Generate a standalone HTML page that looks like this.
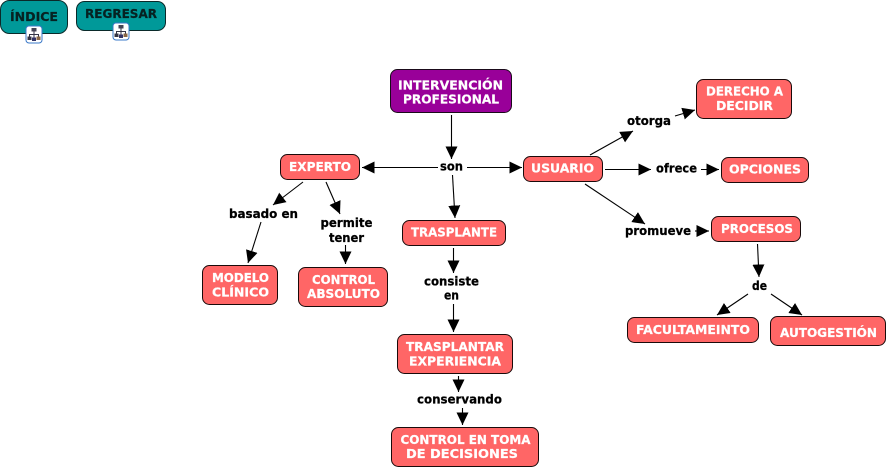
<!DOCTYPE html>
<html><head><meta charset="utf-8"><style>
html,body{margin:0;padding:0;background:#fff;width:888px;height:469px;overflow:hidden}
svg{display:block}
text{font-family:"DejaVu Sans",sans-serif;font-weight:bold;font-size:12.5px;stroke-width:.25px}
.w{fill:#fff;stroke:#fff}.k{fill:#000;stroke:#000}.d{fill:#062222;stroke:#062222}
.n{fill:#ff6666;stroke:#1a0a0a;stroke-width:1}
.l{stroke:#000;stroke-width:1.1;fill:none;marker-end:url(#a)}
</style></head><body>
<svg width="888" height="469" viewBox="0 0 888 469" xmlns="http://www.w3.org/2000/svg">
<defs>
<marker id="a" markerUnits="userSpaceOnUse" markerWidth="15" markerHeight="14" refX="12.500" refY="6" orient="auto"><path d="M0 0L12.500 6L0 12Z" fill="#000"/></marker>
<g id="ic">
<rect x="0.500" y="0.500" width="16" height="17" rx="3" fill="#fff" stroke="#3a78c8"/>
<path d="M8.500 5V9M4 12V9H13V12M8.500 9V12" stroke="#334" fill="none"/>
<rect x="6" y="2.500" width="5" height="3.500" fill="#445"/>
<rect x="2" y="11" width="4" height="3.500" fill="#334"/>
<rect x="11" y="11" width="4" height="3.500" fill="#864"/>
<rect x="6.500" y="12" width="4" height="3.500" fill="#336"/>
</g>
</defs>

<rect x="0.500" y="0.500" width="67" height="33" rx="9" fill="#009999" stroke="#0a2a2a"/>
<text class="d" x="34" y="21" text-anchor="middle" textLength="48" lengthAdjust="spacingAndGlyphs">ÍNDICE</text>
<rect x="76.500" y="1.500" width="89" height="29" rx="8" fill="#009999" stroke="#0a2a2a"/>
<text class="d" x="121" y="18" text-anchor="middle" textLength="72" lengthAdjust="spacingAndGlyphs">REGRESAR</text>
<use href="#ic" x="25.500" y="25.500"/>
<use href="#ic" x="112.500" y="22.500"/>

<!-- connectors -->
<path class="l" d="M451.500 115V159"/>
<path class="l" d="M438 167.500H362"/>
<path class="l" d="M467 167.500H522"/>
<path class="l" d="M452.500 175L455 218"/>
<path class="l" d="M303 182L273 205"/>
<path class="l" d="M261 222L248 263"/>
<path class="l" d="M326 182L340 214"/>
<path class="l" d="M345.500 245V264"/>
<path class="l" d="M453.500 248V273"/>
<path class="l" d="M453.500 304V332"/>
<path class="l" d="M458.500 376V392"/>
<path class="l" d="M462.500 408V425"/>
<path class="l" d="M590 155L633 131"/>
<path class="l" d="M675 116L695 110"/>
<path class="l" d="M605 169.500H651"/>
<path class="l" d="M701 169.500H719"/>
<path class="l" d="M585 184L645 224"/>
<path class="l" d="M695 231H709"/>
<path class="l" d="M757.500 244L759 277"/>
<path class="l" d="M748 294L717 315"/>
<path class="l" d="M771 294L802 315"/>

<!-- nodes -->
<rect x="390.500" y="69.500" width="121" height="43" rx="7" fill="#990099" stroke="#1a0a1a"/>
<text class="w" x="450.500" y="89.300" text-anchor="middle" textLength="105" lengthAdjust="spacingAndGlyphs">INTERVENCIÓN</text>
<text class="w" x="451" y="103.700" text-anchor="middle" textLength="96" lengthAdjust="spacingAndGlyphs">PROFESIONAL</text>

<rect class="n" x="523.500" y="156.500" width="79" height="25" rx="7"/>
<text class="w" x="562.500" y="172.700" text-anchor="middle" textLength="63" lengthAdjust="spacingAndGlyphs">USUARIO</text>

<rect class="n" x="280.500" y="154.500" width="79" height="25" rx="7"/>
<text class="w" x="320" y="171" text-anchor="middle" textLength="62" lengthAdjust="spacingAndGlyphs">EXPERTO</text>

<rect class="n" x="402.500" y="220.500" width="103" height="25" rx="7"/>
<text class="w" x="454" y="236.700" text-anchor="middle" textLength="86" lengthAdjust="spacingAndGlyphs">TRASPLANTE</text>

<rect class="n" x="696.500" y="79.500" width="95" height="39" rx="7"/>
<text class="w" x="744.500" y="95.700" text-anchor="middle" textLength="77" lengthAdjust="spacingAndGlyphs">DERECHO A</text>
<text class="w" x="744.500" y="110" text-anchor="middle" textLength="57" lengthAdjust="spacingAndGlyphs">DECIDIR</text>

<rect class="n" x="721.500" y="157.500" width="87" height="25" rx="7"/>
<text class="w" x="765" y="173.700" text-anchor="middle" textLength="72" lengthAdjust="spacingAndGlyphs">OPCIONES</text>

<rect class="n" x="711.500" y="216.500" width="89" height="25" rx="7"/>
<text class="w" x="757" y="233" text-anchor="middle" textLength="72" lengthAdjust="spacingAndGlyphs">PROCESOS</text>

<rect class="n" x="627.500" y="317.500" width="131" height="25" rx="7"/>
<text class="w" x="693" y="334" text-anchor="middle" textLength="114" lengthAdjust="spacingAndGlyphs">FACULTAMEINTO</text>

<rect class="n" x="770.500" y="316.500" width="115" height="29" rx="7"/>
<text class="w" x="828.500" y="337" text-anchor="middle" textLength="97" lengthAdjust="spacingAndGlyphs">AUTOGESTIÓN</text>

<rect class="n" x="202.500" y="265.500" width="75" height="39" rx="7"/>
<text class="w" x="240.500" y="282" text-anchor="middle" textLength="57" lengthAdjust="spacingAndGlyphs">MODELO</text>
<text class="w" x="240.500" y="296.700" text-anchor="middle" textLength="57" lengthAdjust="spacingAndGlyphs">CLÍNICO</text>

<rect class="n" x="298.500" y="267.500" width="89" height="39" rx="7"/>
<text class="w" x="343.500" y="284" text-anchor="middle" textLength="63" lengthAdjust="spacingAndGlyphs">CONTROL</text>
<text class="w" x="343.500" y="298" text-anchor="middle" textLength="73" lengthAdjust="spacingAndGlyphs">ABSOLUTO</text>

<rect class="n" x="397.500" y="334.500" width="115" height="39" rx="7"/>
<text class="w" x="455" y="351" text-anchor="middle" textLength="98" lengthAdjust="spacingAndGlyphs">TRASPLANTAR</text>
<text class="w" x="455" y="365.700" text-anchor="middle" textLength="92" lengthAdjust="spacingAndGlyphs">EXPERIENCIA</text>

<rect class="n" x="391.500" y="427.500" width="147" height="39" rx="7"/>
<text class="w" x="465.500" y="444" text-anchor="middle" textLength="130" lengthAdjust="spacingAndGlyphs">CONTROL EN TOMA</text>
<text class="w" x="462" y="458" text-anchor="middle" textLength="112" lengthAdjust="spacingAndGlyphs">DE DECISIONES</text>

<!-- labels -->
<text class="k" x="451.500" y="170.700" text-anchor="middle" textLength="23" lengthAdjust="spacingAndGlyphs">son</text>
<text class="k" x="263.500" y="218" text-anchor="middle" textLength="69" lengthAdjust="spacingAndGlyphs">basado en</text>
<text class="k" x="346.500" y="227" text-anchor="middle" textLength="52" lengthAdjust="spacingAndGlyphs">permite</text>
<text class="k" x="346.500" y="242" text-anchor="middle" textLength="35" lengthAdjust="spacingAndGlyphs">tener</text>
<text class="k" x="451.500" y="285.300" text-anchor="middle" textLength="55" lengthAdjust="spacingAndGlyphs">consiste</text>
<text class="k" x="451.500" y="299.700" text-anchor="middle" textLength="15" lengthAdjust="spacingAndGlyphs">en</text>
<text class="k" x="459.500" y="403.700" text-anchor="middle" textLength="85" lengthAdjust="spacingAndGlyphs">conservando</text>
<text class="k" x="649" y="125" text-anchor="middle" textLength="44" lengthAdjust="spacingAndGlyphs">otorga</text>
<text class="k" x="676.500" y="172.700" text-anchor="middle" textLength="41" lengthAdjust="spacingAndGlyphs">ofrece</text>
<text class="k" x="658" y="235" text-anchor="middle" textLength="66" lengthAdjust="spacingAndGlyphs">promueve</text>
<text class="k" x="759.500" y="290" text-anchor="middle" textLength="15" lengthAdjust="spacingAndGlyphs">de</text>
</svg>
</body></html>
